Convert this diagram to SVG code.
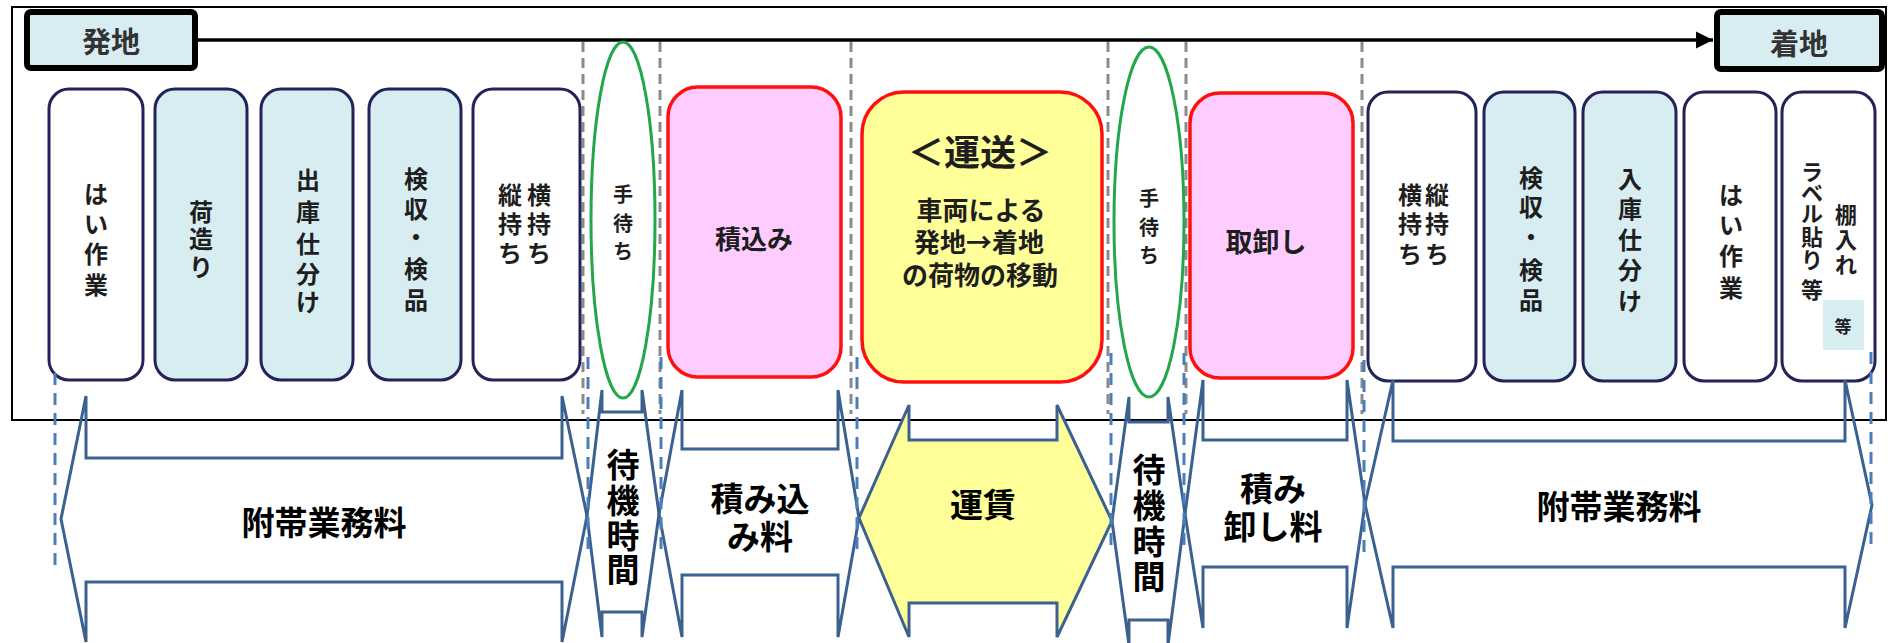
<svg xmlns="http://www.w3.org/2000/svg" width="1888" height="643" viewBox="0 0 1888 643">
<style>
text{font-family:"Noto Sans CJK JP","Noto Sans CJK SC",sans-serif;font-weight:bold;text-anchor:middle;dominant-baseline:central;fill:#1e1e1e}
.bx{stroke:#23235a;stroke-width:3}
.w{fill:#ffffff}
.lb{fill:#d7edf1}
.pk{fill:#ffccff;stroke:#ff1010;stroke-width:3.5}
.yl{fill:#ffff99;stroke:#ff1010;stroke-width:3.5}
.el{fill:#ffffff;stroke:#22a84a;stroke-width:3}
.gd{stroke:#8a8a8a;stroke-width:3;stroke-dasharray:10 6;fill:none}
.bd{stroke:#4a7ebb;stroke-width:3;stroke-dasharray:12 8;fill:none}
.ar{fill:none;stroke:#3b6190;stroke-width:3;stroke-linejoin:miter}
.t24{font-size:24px}
.t20{font-size:20px}
.big{font-size:33px;fill:#000}
.end{fill:#d7edf1;stroke:#000;stroke-width:6}
</style>
<defs>
<marker id="ah" viewBox="0 0 10 10" refX="10" refY="5" markerWidth="5" markerHeight="5" orient="auto" markerUnits="strokeWidth">
<path d="M0,0 L10,5 L0,10 z" fill="#000"/>
</marker>
</defs>
<rect x="0" y="0" width="1888" height="643" fill="#ffffff"/>
<rect id="frame" x="12" y="7" width="1874" height="413" fill="#ffffff" stroke="#000" stroke-width="2"/>

<g id="guides">
<line class="gd" x1="583" y1="42" x2="583" y2="414"/>
<line class="gd" x1="660" y1="42" x2="660" y2="414"/>
<line class="gd" x1="851" y1="42" x2="851" y2="414"/>
<line class="gd" x1="1108" y1="42" x2="1108" y2="414"/>
<line class="gd" x1="1186" y1="42" x2="1186" y2="414"/>
<line class="gd" x1="1362" y1="42" x2="1362" y2="414"/>
</g>

<g id="connectors">
<line x1="197" y1="40" x2="1713" y2="40" stroke="#000" stroke-width="3.5" marker-end="url(#ah)"/>
</g>

<g id="origin"><rect class="end" x="27" y="12" width="168" height="56" rx="4"/><text x="111" y="40" style="font-size:29px;fill:#333">発地</text></g>
<g id="dest"><rect class="end" x="1717" y="12" width="165" height="57" rx="4"/><text x="1799" y="42" style="font-size:29px;fill:#333">着地</text></g>

<g id="n1"><rect class="bx w" x="49" y="89" width="94" height="291" rx="20"/>
<text class="t24"><tspan x="96" y="192">は</tspan><tspan x="96" y="222">い</tspan><tspan x="96" y="252">作</tspan><tspan x="96" y="283">業</tspan></text></g>
<g id="n2"><rect class="bx lb" x="155" y="89" width="92" height="291" rx="20"/>
<text class="t24"><tspan x="201" y="210">荷</tspan><tspan x="201" y="237">造</tspan><tspan x="201" y="265">り</tspan></text></g>
<g id="n3"><rect class="bx lb" x="261" y="89" width="92" height="291" rx="20"/>
<text class="t24"><tspan x="308" y="178">出</tspan><tspan x="308" y="210">庫</tspan><tspan x="308" y="242">仕</tspan><tspan x="308" y="272">分</tspan><tspan x="308" y="300">け</tspan></text></g>
<g id="n4"><rect class="bx lb" x="369" y="89" width="92" height="291" rx="20"/>
<text class="t24"><tspan x="416" y="177">検</tspan><tspan x="416" y="207">収</tspan><tspan x="416" y="235">・</tspan><tspan x="416" y="267">検</tspan><tspan x="416" y="298">品</tspan></text></g>
<g id="n5"><rect class="bx w" x="473" y="89" width="107" height="291" rx="20"/>
<text class="t24"><tspan x="539" y="193">横</tspan><tspan x="539" y="222">持</tspan><tspan x="539" y="251">ち</tspan></text>
<text class="t24"><tspan x="510" y="193">縦</tspan><tspan x="510" y="222">持</tspan><tspan x="510" y="251">ち</tspan></text></g>

<g id="wait1"><ellipse class="el" cx="623" cy="220" rx="32" ry="178"/>
<text class="t20"><tspan x="623" y="193">手</tspan><tspan x="623" y="222">待</tspan><tspan x="623" y="250">ち</tspan></text></g>
<g id="load"><rect class="pk" x="668" y="87" width="173" height="290" rx="30"/>
<text x="754" y="237" style="font-size:26px">積込み</text></g>
<g id="transport"><rect class="yl" x="862" y="92" width="240" height="290" rx="42"/>
<text x="980" y="150" style="font-size:36px">＜運送＞</text>
<text x="981" y="208" style="font-size:26px">車両による</text>
<text x="979" y="240" style="font-size:26px">発地→着地</text>
<text x="980" y="273" style="font-size:26px">の荷物の移動</text></g>
<g id="wait2"><ellipse class="el" cx="1149" cy="222" rx="35" ry="175"/>
<text class="t20"><tspan x="1149" y="197">手</tspan><tspan x="1149" y="226">待</tspan><tspan x="1149" y="254">ち</tspan></text></g>
<g id="unload"><rect class="pk" x="1190" y="93" width="163" height="285" rx="30"/>
<text x="1266" y="240" style="font-size:27px">取卸し</text></g>

<g id="m1"><rect class="bx w" x="1368" y="92" width="108" height="289" rx="20"/>
<text class="t24"><tspan x="1410" y="193">横</tspan><tspan x="1410" y="222">持</tspan><tspan x="1410" y="252">ち</tspan></text>
<text class="t24"><tspan x="1437" y="193">縦</tspan><tspan x="1437" y="222">持</tspan><tspan x="1437" y="252">ち</tspan></text></g>
<g id="m2"><rect class="bx lb" x="1484" y="92" width="91" height="289" rx="20"/>
<text class="t24"><tspan x="1531" y="176">検</tspan><tspan x="1531" y="205">収</tspan><tspan x="1531" y="235">・</tspan><tspan x="1531" y="268">検</tspan><tspan x="1531" y="298">品</tspan></text></g>
<g id="m3"><rect class="bx lb" x="1583" y="92" width="93" height="289" rx="20"/>
<text class="t24"><tspan x="1630" y="177">入</tspan><tspan x="1630" y="207">庫</tspan><tspan x="1630" y="238">仕</tspan><tspan x="1630" y="268">分</tspan><tspan x="1630" y="299">け</tspan></text></g>
<g id="m4"><rect class="bx w" x="1684" y="92" width="92" height="289" rx="20"/>
<text class="t24"><tspan x="1731" y="193">は</tspan><tspan x="1731" y="223">い</tspan><tspan x="1731" y="254">作</tspan><tspan x="1731" y="286">業</tspan></text></g>
<g id="m5"><rect class="bx w" x="1782" y="92" width="93" height="289" rx="20"/>
<text style="font-size:22px"><tspan x="1846" y="213">棚</tspan><tspan x="1846" y="238">入</tspan><tspan x="1846" y="263">れ</tspan></text>
<text style="font-size:22px"><tspan x="1812" y="170">ラ</tspan><tspan x="1812" y="191">ベ</tspan><tspan x="1812" y="212">ル</tspan><tspan x="1812" y="235">貼</tspan><tspan x="1812" y="258">り</tspan><tspan x="1812" y="288">等</tspan></text>
<rect x="1823" y="300" width="41" height="50" fill="#d7edf1"/>
<text x="1843" y="325" style="font-size:17px">等</text></g>

<g id="fees">
<path class="ar" d="M61,519 L86,396 L86,458 L562,458 L562,396 L587,516 L562,642 L562,582 L86,582 L86,642 Z"/>
<path class="ar" d="M587,516 L602,390 L602,412 L642,412 L642,390 L659,514 L642,637 L642,612 L602,612 L602,637 Z"/>
<path class="ar" d="M659,514 L682,390 L682,449 L838,449 L838,390 L859,518 L838,637 L838,575 L682,575 L682,637 Z"/>
<path class="ar" d="M859,518 L909,405 L909,440 L1057,440 L1057,405 L1112,521 L1057,637 L1057,603 L909,603 L909,637 Z" style="fill:#ffff99"/>
<path class="ar" d="M1112,521 L1129,397 L1129,422 L1168,422 L1168,397 L1185,514 L1168,645 L1168,620 L1129,620 L1129,645 Z"/>
<path class="ar" d="M1185,514 L1203,380 L1203,440 L1347,440 L1347,380 L1365,504 L1347,628 L1347,567 L1203,567 L1203,628 Z"/>
<path class="ar" d="M1365,504 L1393,380 L1393,441 L1845,441 L1845,380 L1872,505 L1845,628 L1845,567 L1393,567 L1393,628 Z"/>
</g>

<g id="bluelines">
<line class="bd" x1="55" y1="373" x2="55" y2="567"/>
<line class="bd" x1="588" y1="357" x2="588" y2="552"/>
<line class="bd" x1="661" y1="357" x2="661" y2="552"/>
<line class="bd" x1="857" y1="357" x2="857" y2="552"/>
<line class="bd" x1="1111" y1="353" x2="1111" y2="552"/>
<line class="bd" x1="1184" y1="353" x2="1184" y2="552"/>
<line class="bd" x1="1364" y1="360" x2="1364" y2="553"/>
<line class="bd" x1="1871" y1="352" x2="1871" y2="545"/>
</g>

<g id="feelabels">
<text class="big" x="324" y="521">附帯業務料</text>
<text class="big"><tspan x="623" y="463">待</tspan><tspan x="623" y="499">機</tspan><tspan x="623" y="534">時</tspan><tspan x="623" y="568">間</tspan></text>
<text class="big"><tspan x="760" y="497">積み込</tspan><tspan x="760" y="535">み料</tspan></text>
<text class="big" x="983" y="503">運賃</text>
<text class="big"><tspan x="1149" y="468">待</tspan><tspan x="1149" y="504">機</tspan><tspan x="1149" y="540">時</tspan><tspan x="1149" y="575">間</tspan></text>
<text class="big"><tspan x="1273" y="487">積み</tspan><tspan x="1273" y="525">卸し料</tspan></text>
<text class="big" x="1619" y="505">附帯業務料</text>
</g>
</svg>
